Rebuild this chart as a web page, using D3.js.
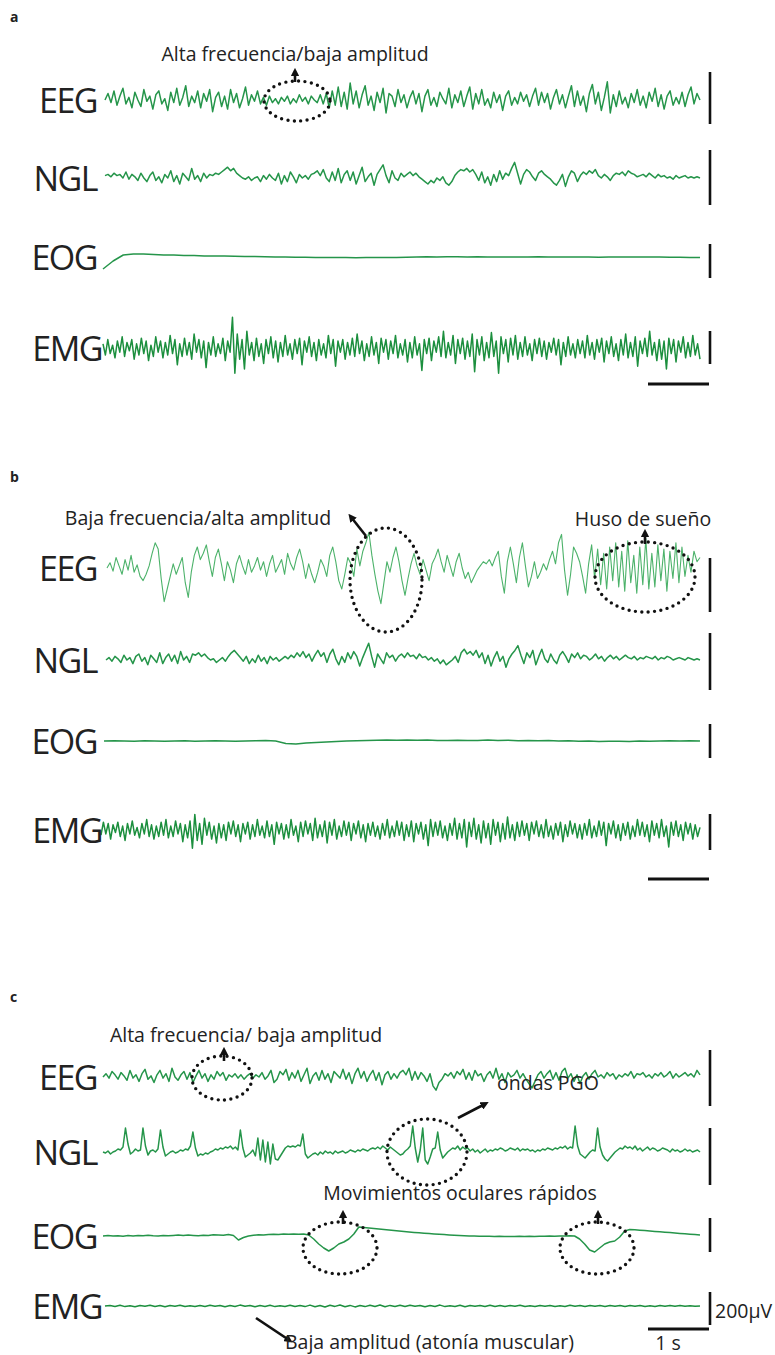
<!DOCTYPE html>
<html>
<head>
<meta charset="utf-8">
<script src="https://cdn.jsdelivr.net/npm/d3@7"></script>
<style>
body { margin: 0; background: #fff; }
text { font-family: 'Open Sans', sans-serif; fill: #222; }
</style>
</head>
<body>
<div class="canvas"></div>
<script>
// traces, values (arbitrary units, up = positive)
const eegA = [0,5,-2,7,-4,3,9,-3,2,-6,6,0,-5,8,-1,3,-7,4,7,-3,
  1,-8,6,-2,9,-4,2,11,-5,3,-2,7,-6,5,-1,8,-9,2,6,-5,
  3,-7,8,-2,5,-6,1,10,-4,4,-1,7,-3,2,-4,3,-2,1,-3,2,
  -1,3,-3,1,-2,4,-1,2,-3,3,0,-2,4,-3,5,-6,7,-4,10,-5,
  6,-7,13,-3,7,-6,4,11,-4,3,-8,6,-2,9,-10,5,3,-5,8,-2,
  4,-6,2,7,-3,5,-9,3,8,-4,2,-5,6,1,-3,9,-6,4,-2,7,
  -5,3,10,-7,5,-3,8,-4,1,-6,6,-2,4,-8,3,7,-4,2,-3,6,
  -1,4,-5,3,9,-4,6,-2,5,-7,2,8,-3,4,-6,3,11,-5,7,-4,
  3,-9,5,12,-3,6,-8,2,14,-10,4,-5,7,-3,2,-6,5,-2,8,-4,
  3,-6,6,-1,9,-5,4,-7,3,7,-4,2,-3,6,-5,4,10,-3,5,0]
const ngA = [2,3,1,4,2,3,0,5,-1,3,1,-2,4,0,-3,2,5,-2,1,-4,
  3,0,6,-3,2,-5,4,1,-2,8,-1,2,-3,4,0,3,2,4,3,5,
  7,9,6,8,4,2,0,-1,1,-2,0,1,-3,2,-1,3,0,-2,4,-5,
  2,-3,5,1,-4,3,0,2,-1,3,4,6,2,7,0,-3,5,-2,8,-4,
  3,6,-2,5,-5,2,9,-3,1,4,-6,3,7,11,2,-4,6,0,-2,4,
  1,3,5,2,4,1,-1,-3,-5,-2,-4,0,-2,1,-4,-6,-3,2,5,7,
  6,8,5,7,3,-2,5,-4,1,-6,3,-3,6,-1,4,2,8,13,4,-5,
  3,7,5,1,-2,4,6,3,1,-1,-4,-6,-2,3,-7,1,6,4,-3,2,
  5,3,6,4,7,2,0,3,1,-2,2,4,3,5,2,6,4,3,1,2,
  3,1,4,2,0,3,1,2,0,1,-1,2,0,1,2,0,1,0,1,0]
const eogA = [-12,-4,2,3,3,2.5,2,2,1.5,1.5,1,1,1,0.8,0.5,0.5,0.3,0,0,-0.2,
  -0.3,-0.5,-0.5,-0.6,-0.5,-0.7,-0.6,-0.5,-0.5,-0.4,-0.3,0,0.2,0.1,0.3,0.2,0,0.2,0,-0.1,
  0,0.1,0,0.2,0,-0.1,0,0.1,0,-0.2,0,0.1,-0.1,0,0.1,0,-0.2,-0.3,-0.5,-0.6]
const emgA = [3,-5,6,-4,2,-7,5,-3,8,-6,4,-2,6,-8,3,-5,7,-4,5,-9,2,-6,8,-3,5,
  -7,4,-5,9,-4,6,-12,3,-6,7,-5,4,-8,10,-3,6,-7,5,-14,4,-5,8,-6,3,-4,
  7,-9,5,-3,22,-18,10,-8,6,-15,12,-5,4,-9,7,-6,3,-11,6,-4,8,-7,5,-10,4,
  -6,9,-5,3,-8,6,-4,7,-12,5,-3,8,-6,4,-9,6,-5,3,-7,9,-4,6,-13,5,-3,
  6,-8,4,-5,7,-6,10,-4,5,-9,3,-6,8,-5,4,-11,7,-3,6,-8,5,-4,9,-7,3,
  -5,6,-10,4,-7,8,-5,3,-16,6,-4,7,-9,5,-3,8,-6,12,-7,4,-5,9,-11,6,-4,
  7,-8,5,-6,10,-17,6,-5,8,-9,4,-7,11,-6,5,-18,8,-4,6,-10,7,-5,9,-8,4,
  -6,8,-5,3,-9,6,-4,7,-6,5,-8,4,-3,7,-5,6,-12,4,-6,8,-5,3,-7,6,-4,
  5,-7,9,-5,4,-8,6,-3,7,-10,5,-4,8,-6,3,-9,6,-5,10,-7,4,-6,8,-13,5,
  -4,7,-6,12,-5,4,-9,6,-8,5,-15,7,-4,6,-10,5,-3,8,-7,4,-6,9,-5,3,-8]

const eegB = [0,5,-3,10,2,-6,8,-2,12,-4,
  3,-8,-12,-6,2,14,24,18,-10,-32,
  -20,-8,4,-6,2,10,-14,-28,-4,12,
  20,8,14,22,6,-8,10,18,4,-12,
  6,-2,-14,4,12,2,-6,8,-4,2,
  10,-2,6,-8,4,12,-4,2,8,-6,
  14,4,-2,10,18,6,-10,4,-6,-14,
  -4,8,2,-8,12,20,6,-12,-20,-6,
  10,4,-8,18,2,16,24,34,12,-6,
  -22,-34,-14,6,-4,10,20,6,-12,-26,
  -10,4,14,2,-6,8,-2,-12,4,10,
  18,6,-4,12,2,-8,6,14,0,-10,
  -4,-14,-8,-2,2,6,4,8,2,10,
  16,-8,-24,6,20,4,-14,10,24,2,
  -18,-8,6,-10,-4,4,-2,8,16,4,
  24,32,-2,-26,-6,20,14,6,-8,-24,
  4,22,-10,18,-16,14,-20,20,-12,24,
  -18,16,-22,26,-14,12,-24,20,-16,28,
  -20,14,-18,22,-12,18,-22,16,-10,24,
  -14,20,-8,12,-4,16,6,10]
const ngB = [0,2,-1,3,1,-2,4,0,2,-3,3,5,-1,2,-4,4,1,-2,6,-3,
  2,5,-1,4,-3,7,0,3,-2,5,4,6,3,5,2,0,1,-2,0,2,
  -1,3,6,8,5,2,-1,3,-3,1,-2,4,-1,2,-3,3,0,2,-1,1,
  3,1,4,2,6,3,7,2,5,-1,4,8,3,6,-2,5,9,1,-4,3,
  -2,6,1,7,3,-5,2,8,14,3,-6,5,1,-3,6,2,4,-1,3,5,
  2,6,3,4,1,5,2,3,0,2,-1,1,-3,0,-4,-2,0,3,-2,6,
  9,5,7,4,8,2,6,-3,4,-5,2,7,-1,3,-6,1,5,8,12,4,
  -3,6,2,8,-4,3,9,1,-2,5,0,-3,4,7,3,-2,5,2,6,1,
  4,3,0,2,5,1,3,-1,2,4,1,3,0,2,4,2,1,3,0,2,
  1,3,2,1,3,0,2,1,3,2,0,1,2,1,0,2,1,0,1,0]
const eogB = [0,0.3,0,-0.2,0.2,0,-0.3,0,0.2,-0.2,0,0.3,0,-0.2,0,0.3,0.5,0,-2.5,-3,
  -2,-1.5,-1,-0.5,0,0.3,0.5,0.8,1,0.8,1,0.7,0.9,0.5,0.6,0.8,0.4,0.6,0.9,0.5,
  0.8,0.3,0.6,0.2,0.4,0,0.2,-0.3,0,-0.5,-0.3,-0.2,-0.4,0,-0.2,0,0.2,0,0.2,0]
const emgB = [-4,6,-3,5,-7,4,-2,6,-5,3,-8,5,-3,7,-4,2,-6,5,-3,8,-5,4,-7,3,-5,
  6,-4,8,-6,3,-5,7,-3,5,-9,4,-6,7,-14,12,-8,5,-11,9,-4,6,-7,3,-10,5,
  -6,4,-8,6,-3,7,-5,4,-9,5,-3,6,-7,4,-5,8,-4,3,-6,7,-5,4,-11,6,-3,
  5,-7,4,-6,8,-4,3,-9,6,-5,7,-3,5,-8,9,-6,4,-5,7,-10,6,-4,8,-7,3,
  -5,7,-4,6,-8,5,-3,7,-6,4,-9,5,-4,6,-5,3,-7,5,-4,8,-6,3,-5,7,-4,
  6,-8,4,-5,7,-9,5,-3,6,-7,4,-12,8,-5,6,-4,7,-6,3,-8,5,-4,9,-7,5,
  -6,8,-13,6,-5,9,-7,4,-10,7,-6,5,-11,8,-4,6,-9,5,-7,10,-6,4,-8,6,-5,
  7,-4,5,-8,6,-3,7,-5,4,-6,8,-5,3,-7,5,-4,6,-9,4,-5,7,-3,5,-6,4,
  -7,5,-4,8,-6,3,-5,7,-4,6,-12,5,-3,7,-6,4,-8,5,-4,6,-7,3,-5,8,-4,
  6,-5,4,-9,7,-4,5,-6,8,-5,3,-13,6,-4,7,-5,4,-8,6,-3,5,-7,4,-5,2]

const eegC = [0,3,-1,5,2,-2,4,1,-3,6,-1,2,-4,3,7,-2,1,-5,2,6,
  -1,3,-4,8,0,-3,2,5,-2,4,-5,1,6,-1,3,-4,2,-2,5,1,
  4,-3,2,0,3,-1,2,-2,1,3,-1,2,0,4,-2,1,6,-5,-2,5,
  2,7,-3,4,-1,6,-4,2,8,-6,1,4,-3,6,-2,3,-5,5,2,-1,
  7,-2,4,-6,3,8,-1,5,-4,2,6,-3,4,-7,2,5,-2,3,-1,4,
  6,2,8,-3,5,-2,4,1,-4,3,-8,-12,-5,-2,3,1,4,-1,5,2,
  7,-2,4,-3,6,1,3,-4,2,5,-1,8,-2,3,-5,4,0,2,6,-1,
  3,-2,-6,-10,-4,2,5,-1,3,6,-2,4,-3,5,8,-1,3,-4,2,-6,
  1,4,-2,3,6,0,2,-1,4,1,3,-2,2,0,3,1,5,-1,3,2,
  4,0,2,-1,3,1,4,0,2,5,-1,3,0,2,4,1,3,0,6,2]
const ngC = [0,-1,1,-2,0,1,3,2,5,24, 8,-2,0,3,1,2,24,6,-3,1,
  2,0,3,22,5,-4,-2,0,1,-1, 0,2,1,3,2,6,20,4,-4,-2,
  -3,-1,-2,0,1,3,2,4,3,5, 4,6,3,5,2,22,4,-5,-3,-1,
  2,-4,14,-8,12,-10,10,-12,8,-7, -8,-4,0,4,6,5,6,5,7,6,
  18,-2,-6,-4,-2,-1,-3,0,-2,1, -1,0,-2,1,-1,0,1,-1,0,2,
  1,0,2,1,3,2,1,3,4,3, 5,3,6,4,2,5,3,1,-1,-3,
  -2,1,3,6,26,4,-10,2,24,-8, -12,-5,3,4,20,2,-6,-3,0,2,
  4,3,6,2,5,3,4,1,3,0, 2,-1,1,3,0,2,1,3,2,4,
  3,1,2,4,3,2,4,1,3,2, 3,1,2,0,2,1,3,2,4,3,
  2,4,3,5,4,6,3,5,4,26, 6,-2,-4,-6,-3,0,2,1,24,5,
  -3,-7,-9,-6,-3,0,2,4,3,6, 4,5,3,6,2,4,1,3,5,2,
  4,3,1,2,4,3,2,0,3,1, 2,0,1,3,1,2,0,1,2,0]
const eogC = [0,0.5,0,0.3,-0.2,0.4,0,0.5,0.2,0.8,0.3,0,0.5,0.2,0.6,0.9,0.4,1,0.6,0.3,
  0.8,0.5,1.2,0.9,0.7,1.5,0.5,-4,-1.5,0,0.8,1.2,1,1.5,1.8,1.5,2,1.8,2,1.8,
  2,1,-3,-8,-12,-15,-12,-8,-6,-3,2,9,8.5,
  8,7.5,7,6.5,6,5.5,5,4.5,4,3.6,3.2,2.8,2.4,2,1.7,1.4,1.1,0.8,0.5,0.3,0.1,0,-0.2,-0.3,
  -0.3,-0.5,-0.3,-0.6,-0.4,-0.5,-0.3,-0.4,-0.2,-0.5,-0.3,-0.2,0,-0.2,0.1,0,0.2,0,
  -3,-8,-14,-16,-12,-8,-6,-5,-1,5,6.5,
  6.2,5.8,5.4,5,4.6,4.2,3.8,3.4,3,2.6,2.2,1.8,1.4,1]
const emgC = [0,0.6,-0.4,0.8,-0.6,0.3,-0.8,0.5,-0.3,0.7,-0.5,0.4,-0.7,0.6,-0.2,0.8,-0.5,0.3,-0.6,0.5,
  -0.4,0.7,-0.3,0.5,-0.8,0.4,-0.5,0.9,-0.3,0.6,-0.7,0.4,-0.4,0.8,-0.6,0.3,-0.5,0.7,-0.4,0.5,
  -0.6,0.9,-0.8,0.5,-1,0.7,-0.4,1,-0.7,0.6,-0.9,0.4,-0.6,0.8,-0.5,1,-0.8,0.6,-0.4,0.7,
  -0.5,0.8,-0.3,0.6,-0.7,0.5,-0.4,0.9,-0.6,0.3,-0.5,0.7,-0.8,0.4,-0.3,0.6,-0.5,0.8,-0.4,0.5,
  -0.6,0.4,-0.3,0.7,-0.5,0.3,-0.6,0.5,-0.2,0.6,-0.4,0.3,-0.5,0.7,-0.3,0.4,-0.6,0.5,-0.3,0.4,
  -0.4,0.6,-0.3,0.5,-0.5,0.4,-0.2,0.6,-0.4,0.3,-0.5,0.4,-0.3,0.5,-0.2,0.4,-0.3,0.3,-0.2,0]

const channels = ['EEG', 'NGL', 'EOG', 'EMG']
const panelNames = ['a', 'b', 'c']
const traces = [[eegA, ngA, eogA, emgA], [eegB, ngB, eogB, emgB], [eegC, ngC, eogC, emgC]]
const annotations = [
  ['Alta frecuencia/baja amplitud'],
  ['Baja frecuencia/alta amplitud', 'Huso de sueño'],
  ['Alta frecuencia/ baja amplitud', 'ondas PGO', 'Movimientos oculares rápidos', 'Baja amplitud (atonía muscular)']
]
const voltLabel = '200µV'
const timeLabel = '1 s'

// layout
const width = 775, height = 1355
const xEnd = 700
const layout = [
  { top: 22, rows: [
    { cy: 100, x0: 105, gain: 1.3, bar: [72, 124] },
    { cy: 178, x0: 105, gain: 1.2, bar: [150, 205] },
    { cy: 257, x0: 103, gain: 1, bar: [244, 278] },
    { cy: 348, x0: 103, gain: 1.4, bar: [331, 364] }], time: 384 },
  { top: 482, rows: [
    { cy: 568, x0: 107, gain: 1.05, bar: [558, 612] },
    { cy: 660, x0: 106, gain: 1.2, bar: [633, 690] },
    { cy: 741, x0: 104, gain: 1, bar: [724, 758] },
    { cy: 830, x0: 101, gain: 1.3, bar: [814, 850] }], time: 879 },
  { top: 1002, rows: [
    { cy: 1077, x0: 103, gain: 1.1, bar: [1050, 1106] },
    { cy: 1152, x0: 103, gain: 1, bar: [1128, 1185] },
    { cy: 1236, x0: 103, gain: 1, bar: [1218, 1252] },
    { cy: 1306, x0: 105, gain: 1, bar: [1292, 1325] }], time: 1329 }
]

const svg = d3.select('.canvas').append('svg').attr('width', width).attr('height', height)

const defs = svg.append('defs')
defs.append('marker')
  .attr('id', 'head')
  .attr('viewBox', '0 0 10 10')
  .attr('refX', 5).attr('refY', 5)
  .attr('markerWidth', 3.2).attr('markerHeight', 3.2)
  .attr('orient', 'auto')
  .append('path').attr('d', 'M0,0L10,5L0,10z').attr('fill', '#111')

layout.forEach((panel, p) => {
  const g = svg.append('g')

  g.append('text')
    .attr('x', 10).attr('y', panel.top)
    .style('font-weight', 700).style('font-size', '14px')
    .text(panelNames[p])

  panel.rows.forEach((row, r) => {
    const values = traces[p][r]
    const x = d3.scaleLinear().domain([0, values.length - 1]).range([row.x0, xEnd])
    const y = d3.scaleLinear().domain([-1, 1]).range([row.cy + row.gain, row.cy - row.gain])
    const line = d3.line().x((d, i) => x(i)).y(d => y(d))

    const light = p === 1 && r === 0
    g.append('path')
      .datum(values)
      .attr('d', line)
      .attr('fill', 'none')
      .attr('stroke', light ? '#4cb26a' : (r === 3 ? '#1c8f3e' : '#25954a'))
      .attr('stroke-width', light ? 1.1 : (r === 3 && p < 2 ? 1.5 : 1.5))
      .attr('stroke-linejoin', 'round')

    g.append('text')
      .attr('x', r === 3 ? 102 : 97)
      .attr('y', row.cy)
      .attr('text-anchor', 'end')
      .attr('dominant-baseline', 'central')
      .style('font-size', '34px')
      .style('letter-spacing', '-1.5px')
      .text(channels[r])

    g.append('line')
      .attr('x1', 710).attr('x2', 710)
      .attr('y1', row.bar[0]).attr('y2', row.bar[1])
      .attr('stroke', '#111').attr('stroke-width', 2.6)
  })

  g.append('line')
    .attr('x1', 648).attr('x2', 709)
    .attr('y1', panel.time).attr('y2', panel.time)
    .attr('stroke', '#111').attr('stroke-width', 3)
})

// annotations
const note = (txt, x, y, anchor) => svg.append('text')
  .attr('x', x).attr('y', y)
  .attr('text-anchor', anchor || 'middle')
  .style('font-size', '19.5px')
  .text(txt)
const ring = (cx, cy, rx, ry) => svg.append('ellipse')
  .attr('cx', cx).attr('cy', cy).attr('rx', rx).attr('ry', ry)
  .attr('fill', 'none').attr('stroke', '#111')
  .attr('stroke-width', 3.4).attr('stroke-linecap', 'round')
  .attr('stroke-dasharray', '0 6.4')
const arrow = (x1, y1, x2, y2) => svg.append('line')
  .attr('x1', x1).attr('y1', y1).attr('x2', x2).attr('y2', y2)
  .attr('stroke', '#111').attr('stroke-width', 2.6)
  .attr('marker-end', 'url(#head)')

note(annotations[0][0], 295, 61)
arrow(295, 82, 295, 72)
ring(297, 101, 33, 20)

note(annotations[1][0], 198, 525)
arrow(366, 536, 351, 517)
ring(386, 580, 36, 52)
note(annotations[1][1], 643, 526)
arrow(645, 544, 645, 533)
ring(645, 577, 50, 35)

note(annotations[2][0], 246, 1042)
arrow(224, 1061, 224, 1051)
ring(222, 1078, 30, 22)
note(annotations[2][1], 548, 1090)
arrow(458, 1118, 485, 1104)
ring(427, 1152, 40, 33)
note(annotations[2][2], 460, 1200)
arrow(343, 1224, 343, 1214)
ring(340, 1248, 37, 26)
arrow(598, 1224, 598, 1214)
ring(597, 1248, 37, 26)
arrow(256, 1318, 289, 1340)
note(annotations[2][3], 285, 1349, 'start')

note(voltLabel, 715, 1310, 'start').attr('dominant-baseline', 'central')
note(timeLabel, 668, 1350)
</script>
</body>
</html>
